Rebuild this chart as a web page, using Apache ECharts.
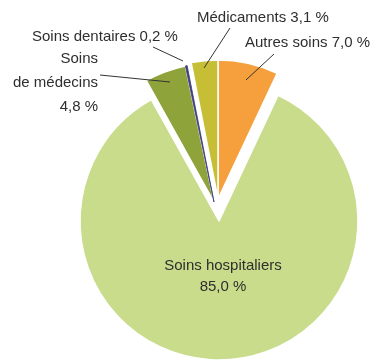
<!DOCTYPE html>
<html><head><meta charset="utf-8">
<script src="https://cdn.jsdelivr.net/npm/echarts@6/dist/echarts.min.js"></script>
<style>html,body{margin:0;padding:0;background:#fff}#c{width:376px;height:364px}</style>
</head><body><div id="c"></div>
<script>
var categories = ['Autres soins', 'Soins hospitaliers', 'Soins\nde médecins', 'Soins dentaires', 'Médicaments'];
var values = [7.0, 85.0, 4.8, 0.2, 3.1];
var valueLabels = ['7,0 %', '85,0 %', '4,8 %', '0,2 %', '3,1 %'];
var colors = ['#f5a03c', '#c9dc8b', '#8fa33b', '#3f3d7a', '#c6bf35'];
// which drawn layer each slice belongs to (0 = main pie, 1 and 2 = pulled-out parts)
var sliceGroup = [1, 0, 2, 2, 1];
var groupCenters = [[219, 221], [218, 199], [214, 202]];

var labelPos = [
  {x: 245, y: 43, align: 'left', line: [[246, 80], [274, 54]]},
  {x: 223, y: 276, align: 'center', line: null},
  {x: 98, y: 83, align: 'right', line: [[100, 75], [170, 82]]},
  {x: 32, y: 37, align: 'left', line: [[153, 47], [183, 61]]},
  {x: 197, y: 18, align: 'left', line: [[230, 28], [204, 68]]}
];

function makeData(g) {
  return categories.map(function (c, i) {
    var visible = sliceGroup[i] === g;
    var style;
    if (!visible) style = {color: 'rgba(0,0,0,0)', borderWidth: 0};
    else if (i === 3) style = {color: colors[i], borderColor: colors[i], borderWidth: 0.8};
    else style = {color: colors[i], borderColor: '#fff', borderWidth: 1.5};
    return {name: c, value: values[i], itemStyle: style};
  });
}

var graphics = [];
categories.forEach(function (c, i) {
  var lp = labelPos[i];
  var sep = (i === 1 || i === 2) ? '\n' : ' ';
  graphics.push({
    type: 'text', z: 100,
    style: {
      text: c + sep + valueLabels[i],
      x: lp.x, y: lp.y,
      textAlign: lp.align, textVerticalAlign: 'middle',
      fill: '#2e2e2e',
      font: '15px "Liberation Sans", Arial, sans-serif',
      lineHeight: i === 1 ? 21 : 24
    }
  });
  if (lp.line) {
    graphics.push({
      type: 'polyline', z: 100,
      shape: {points: lp.line},
      style: {stroke: '#333', lineWidth: 1, fill: null}
    });
  }
});

var series = groupCenters.map(function (ctr, g) {
  return {
    type: 'pie',
    center: ctr,
    radius: 139,
    startAngle: 90,
    clockwise: true,
    silent: true,
    z: g === 2 ? 3 : 2,
    label: {show: false},
    labelLine: {show: false},
    emphasis: {disabled: true},
    data: makeData(g)
  };
});

var chart = echarts.init(document.getElementById('c'), null, {renderer: 'canvas'});
chart.setOption({
  animation: false,
  graphic: graphics,
  series: series
});
</script></body></html>
